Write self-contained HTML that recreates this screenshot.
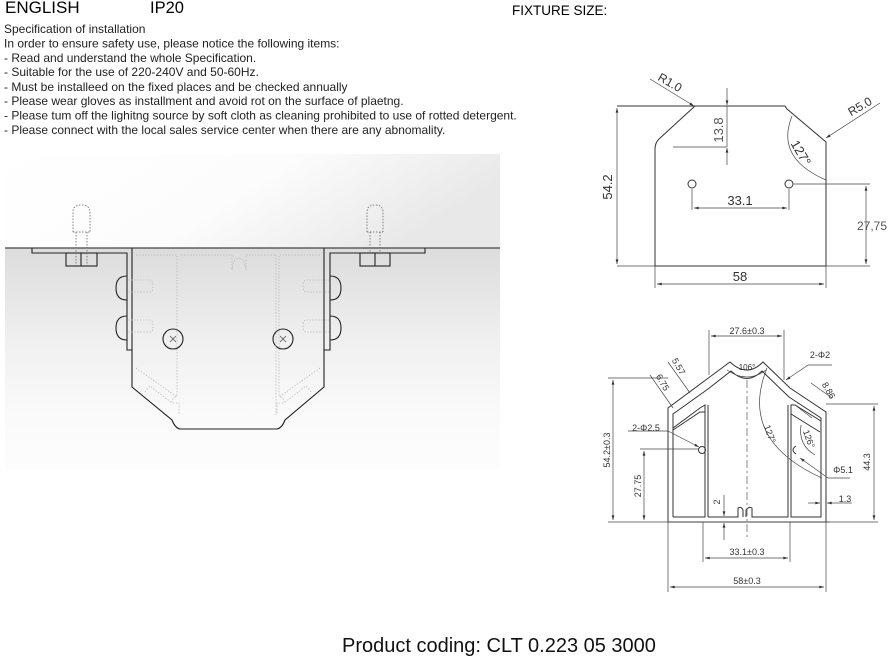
<!DOCTYPE html>
<html><head><meta charset="utf-8"><style>
html,body{margin:0;padding:0;background:#fff;}
body{width:888px;height:664px;overflow:hidden;position:relative;}
svg{position:absolute;left:0;top:0;}
text{font-family:"Liberation Sans",Arial,sans-serif;}
</style></head><body>
<svg width="888" height="664" viewBox="0 0 888 664" xmlns="http://www.w3.org/2000/svg">
<defs>
<linearGradient id="gTop" x1="0" y1="0" x2="1" y2="0.3">
<stop offset="0" stop-color="#ffffff"/><stop offset="0.55" stop-color="#fcfcfc"/><stop offset="1" stop-color="#e8e8e8"/></linearGradient>
<linearGradient id="gBot" x1="0" y1="0" x2="0" y2="1">
<stop offset="0" stop-color="#dcdcdc"/><stop offset="0.4" stop-color="#efefef"/><stop offset="0.75" stop-color="#fafafa"/><stop offset="1" stop-color="#fdfdfd"/></linearGradient>
<marker id="ar" viewBox="0 0 10 6" refX="10" refY="3" markerWidth="7" markerHeight="4" orient="auto-start-reverse"><path d="M0,0 L10,3 L0,6z" fill="#333"/></marker>
</defs>

<text x="5" y="13" font-size="17">ENGLISH</text>
<text x="150" y="13" font-size="16.5">IP20</text>
<text x="512" y="15" font-size="13.5">FIXTURE SIZE:</text>
<g font-size="12" fill="#222" textLength="0">
<text x="4" y="33">Specification of installation</text>
<text x="4" y="47.5">In order to ensure safety use, please notice the following items:</text>
<text x="4" y="62">- Read and understand the whole Specification.</text>
<text x="4" y="76">- Suitable for the use of 220-240V and 50-60Hz.</text>
<text x="4" y="91">- Must be installeed on the fixed places and be checked annually</text>
<text x="4" y="105">- Please wear gloves as installment and avoid rot on the surface of plaetng.</text>
<text x="4" y="119.5">- Please tum off the lighitng source by soft cloth as cleaning prohibited to use of rotted detergent.</text>
<text x="4" y="134">- Please connect with the local sales service center when there are any abnomality.</text>
</g>

<rect x="5" y="154" width="495" height="94" fill="url(#gTop)"/>
<rect x="5" y="248" width="495" height="222" fill="url(#gBot)"/>
<line x1="5" y1="248" x2="500" y2="248" stroke="#444" stroke-width="1.3"/>
<g fill="none" stroke="#222" stroke-width="1.1">
<path d="M32,248 V253 H127 V350 H132"/>
<path d="M425,248 V253 H330 V350 H324"/>
<path d="M132,248 V387 L172,420 Q175,428 180,429 H277 Q282,428 285,420 L324,387 V248"/>
<rect x="66" y="253" width="31" height="13"/>
<line x1="81" y1="253" x2="81" y2="266"/>
<rect x="360" y="253" width="30" height="13"/>
<line x1="375" y1="253" x2="375" y2="266"/>
<path d="M127,276 Q116,276 116,288 Q116,300 127,300"/>
<path d="M127,316 Q116,316 116,328 Q116,340 127,340"/>
<path d="M330,276 Q341,276 341,288 Q341,300 330,300"/>
<path d="M330,316 Q341,316 341,328 Q341,340 330,340"/>
<circle cx="173" cy="339" r="10"/>
<circle cx="283" cy="339" r="10"/>
</g>
<g fill="none" stroke="#555" stroke-width="0.8">
<path d="M170,336 l6,6 M176,336 l-6,6"/>
<path d="M280,336 l6,6 M286,336 l-6,6"/>
</g>
<g fill="none" stroke="#666" stroke-width="0.8" stroke-dasharray="1.5,1.5">
<path d="M73,232 V212 Q73,205 81,205 Q90,205 90,212 V232 M73,232 H90 M76,232 V266 M87,232 V266"/>
<path d="M367,232 V212 Q367,205 375,205 Q383,205 383,212 V232 M367,232 H383 M370,232 V253 M380,232 V253"/>
</g>
<g fill="none" stroke="#bbb" stroke-width="0.8" stroke-dasharray="1.5,1.5">
<path d="M136,255 H177 V395 L172,400 V403 H179 V415"/>
<path d="M181,255 H232 V270 Q233,258 239,258 Q244,258 246,270 V255 H276 V415"/>
<path d="M320,255 H279 V395 L284,400 V403 H277 V415"/>
<path d="M136,368 L177,397 M320,368 L279,397 M145,392 L150,386 L172,403 M311,392 L306,386 L284,403"/>
<path d="M128,280 H150 Q153,280 153,286 Q153,292 150,292 H128 M128,320 H150 Q153,320 153,326 Q153,332 150,332 H128"/>
<path d="M329,280 H306 Q303,280 303,286 Q303,292 306,292 H329 M329,320 H306 Q303,320 303,326 Q303,332 306,332 H329"/>
</g>

<g fill="none" stroke="#333" stroke-width="1">
<path d="M617,106 H695 L659,139 Q655,143 655,149 V266 H826 V142 L787,109 L785,106 H695"/>
<circle cx="692" cy="184" r="4"/>
<circle cx="789" cy="184" r="4"/>
</g>
<g fill="none" stroke="#444" stroke-width="0.7">
<line x1="617" y1="266" x2="655" y2="266"/>
<line x1="617" y1="108" x2="617" y2="264" marker-start="url(#ar)" marker-end="url(#ar)"/>
<line x1="655" y1="266" x2="655" y2="288"/><line x1="826" y1="266" x2="826" y2="288"/>
<line x1="657" y1="284" x2="824" y2="284" marker-start="url(#ar)" marker-end="url(#ar)"/>
<line x1="692" y1="189" x2="692" y2="210"/><line x1="789" y1="189" x2="789" y2="210"/>
<line x1="694" y1="208" x2="787" y2="208" marker-start="url(#ar)" marker-end="url(#ar)"/>
<line x1="794" y1="184" x2="870" y2="184"/><line x1="826" y1="266" x2="870" y2="266"/>
<line x1="866" y1="186" x2="866" y2="264" marker-start="url(#ar)" marker-end="url(#ar)"/>
<line x1="727" y1="88" x2="727" y2="105" marker-end="url(#ar)"/>
<line x1="727" y1="106" x2="727" y2="147"/>
<line x1="727" y1="165" x2="727" y2="148" marker-end="url(#ar)"/>
<line x1="673" y1="147" x2="727" y2="147"/>
<line x1="650" y1="79" x2="694" y2="106" marker-end="url(#ar)"/>
<line x1="880" y1="103" x2="826" y2="138" marker-end="url(#ar)"/>
<path d="M792,116 Q775,158 826,180"/>
</g>
<g fill="#333" font-size="13">
<text x="612" y="187" transform="rotate(-90 612 187)" text-anchor="middle">54.2</text>
<text x="740" y="281" text-anchor="middle">58</text>
<text x="740" y="205" text-anchor="middle">33.1</text>
<text x="887" y="230" text-anchor="end" font-size="12" fill="#555">27,75</text>
<text x="723" y="130" transform="rotate(-90 723 130)" text-anchor="middle" fill="#555">13.8</text>
<text x="668" y="86" transform="rotate(30 668 86)" text-anchor="middle" font-size="12">R1.0</text>
<text x="862" y="110" transform="rotate(-30 862 110)" text-anchor="middle" font-size="12">R5.0</text>
<text x="797" y="155" transform="rotate(60 797 155)" text-anchor="middle">127°</text>
</g>

<g fill="none" stroke="#333" stroke-width="1">
<path d="M668,522 V408 L707,379 L730,362 Q747,378 763,362 L790,388 L826,412 V522 Z"/>
<path d="M673,517 V414 L708,389 L731,371 Q747,386 762,371 L789,397 L821,418 V517 H791 V405 H795 L821,421 M791,405 V517"/>
<path d="M673,517 H705 V405 L700,408 L673,428 M708,405 V517"/>
<path d="M708,517 H738 V508 Q741,506 743,510 V517 M746,517 V510 Q749,506 752,508 V517 H788 V405"/>
<path d="M673,430 L700,412 L705,412"/>
<path d="M791,414 L820,432"/>
<circle cx="702" cy="450" r="3.5"/>
<path d="M796,446 Q790,450 796,454"/>
</g>
<line x1="747" y1="380" x2="747" y2="540" stroke="#555" stroke-width="0.7" stroke-dasharray="8,3,2,3"/>
<g fill="none" stroke="#444" stroke-width="0.7">
<line x1="709" y1="330" x2="709" y2="375"/><line x1="784" y1="330" x2="784" y2="380"/>
<line x1="711" y1="336" x2="782" y2="336" marker-start="url(#ar)" marker-end="url(#ar)"/>
<line x1="608" y1="378" x2="668" y2="378"/><line x1="608" y1="522" x2="830" y2="522"/>
<line x1="613" y1="380" x2="613" y2="520" marker-start="url(#ar)" marker-end="url(#ar)"/>
<line x1="826" y1="404" x2="878" y2="404"/><line x1="826" y1="522" x2="878" y2="522"/>
<line x1="874" y1="406" x2="874" y2="520" marker-start="url(#ar)" marker-end="url(#ar)"/>
<line x1="640" y1="449" x2="698" y2="449"/>
<line x1="644" y1="451" x2="644" y2="520" marker-start="url(#ar)" marker-end="url(#ar)"/>
<line x1="703" y1="522" x2="703" y2="562"/><line x1="790" y1="522" x2="790" y2="562"/>
<line x1="705" y1="558" x2="788" y2="558" marker-start="url(#ar)" marker-end="url(#ar)"/>
<line x1="668" y1="522" x2="668" y2="592"/><line x1="826" y1="522" x2="826" y2="592"/>
<line x1="670" y1="587" x2="824" y2="587" marker-start="url(#ar)" marker-end="url(#ar)"/>
<line x1="724" y1="495" x2="724" y2="516" marker-end="url(#ar)"/>
<line x1="724" y1="540" x2="724" y2="523" marker-end="url(#ar)"/>
<line x1="808" y1="503" x2="820" y2="503" marker-end="url(#ar)"/>
<line x1="840" y1="503" x2="827" y2="503" marker-end="url(#ar)"/>
<line x1="840" y1="503" x2="852" y2="503"/>
<line x1="628" y1="431" x2="668" y2="431"/><line x1="668" y1="431" x2="699" y2="447" marker-end="url(#ar)"/>
<line x1="832" y1="365" x2="808" y2="365"/><line x1="808" y1="365" x2="786" y2="380" marker-end="url(#ar)"/>
<line x1="850" y1="478" x2="828" y2="478"/><line x1="828" y1="478" x2="800" y2="458" marker-end="url(#ar)"/>
<line x1="668" y1="362" x2="690" y2="393"/><line x1="650" y1="375" x2="673" y2="408"/>
<line x1="811" y1="383" x2="832" y2="398"/><line x1="795" y1="405" x2="812" y2="418"/>
<path d="M727,370 Q747,384 766,370"/>
<path d="M767,368 Q738,440 822,478"/>
<path d="M801,425 Q798,445 815,455"/>
</g>
<g fill="#333" font-size="9">
<text x="747" y="334" text-anchor="middle">27.6±0.3</text>
<text x="747" y="370" text-anchor="middle" font-size="8">106°</text>
<text x="610" y="450" transform="rotate(-90 610 450)" text-anchor="middle">54.2±0.3</text>
<text x="870" y="462" transform="rotate(-90 870 462)" text-anchor="middle">44.3</text>
<text x="641" y="486" transform="rotate(-90 641 486)" text-anchor="middle">27.75</text>
<text x="747" y="555" text-anchor="middle">33.1±0.3</text>
<text x="747" y="584" text-anchor="middle">58±0.3</text>
<text x="720" y="502" transform="rotate(-90 720 502)" text-anchor="middle">2</text>
<text x="845" y="502" text-anchor="middle">1.3</text>
<text x="820" y="358" text-anchor="middle">2-Φ2</text>
<text x="646" y="431" text-anchor="middle">2-Φ2.5</text>
<text x="843" y="473" text-anchor="middle">Φ5.1</text>
<text x="826" y="392" transform="rotate(60 826 392)" text-anchor="middle">8.86</text>
<text x="676" y="368" transform="rotate(60 676 368)" text-anchor="middle">5.57</text>
<text x="660" y="384" transform="rotate(60 660 384)" text-anchor="middle">6.75</text>
<text x="767" y="435" transform="rotate(70 767 435)" text-anchor="middle">127°</text>
<text x="806" y="440" transform="rotate(70 806 440)" text-anchor="middle">126°</text>
</g>

<text x="342" y="652" font-size="20" fill="#111">Product coding: CLT 0.223 05 3000</text>
</svg>
</body></html>
